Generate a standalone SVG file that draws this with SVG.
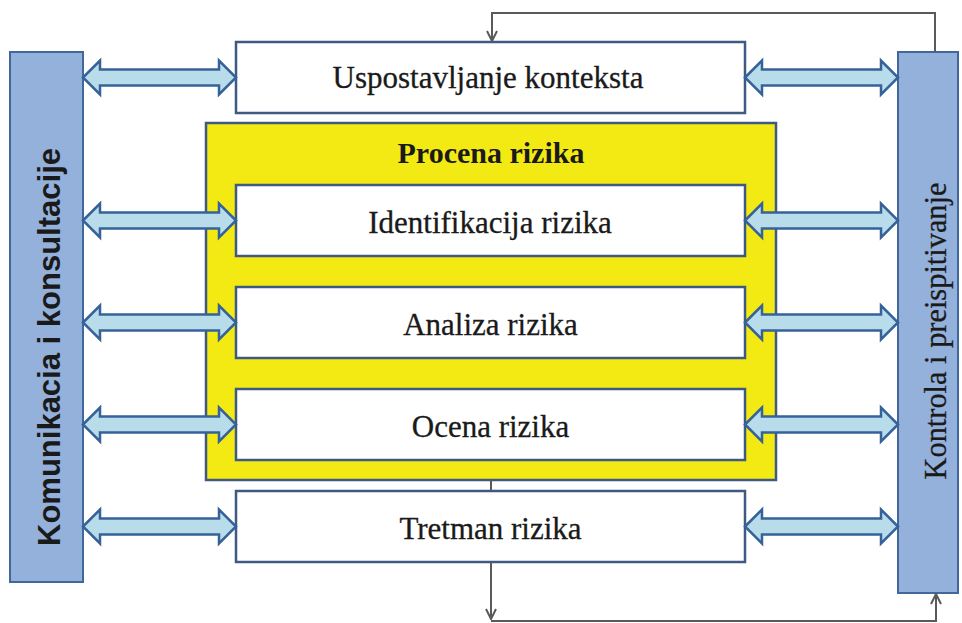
<svg xmlns="http://www.w3.org/2000/svg" width="962" height="623" viewBox="0 0 962 623">
<style>
.bar{fill:#93B1DA;stroke:#41689A;stroke-width:2}
.box{fill:#FFFFFF;stroke:#3C5A82;stroke-width:2.5}
.yel{fill:#F3EA14;stroke:#3C5A82;stroke-width:2.5}
.t{font-family:"Liberation Serif","Times New Roman",serif;font-size:31px;fill:#1A1A1A;text-anchor:middle;stroke:#1A1A1A;stroke-width:0.3}
.tb{font-family:"Liberation Serif","Times New Roman",serif;font-size:30px;font-weight:bold;fill:#1A1A1A;text-anchor:middle}
.ts{font-family:"Liberation Sans",Arial,sans-serif;font-size:32px;font-weight:bold;fill:#1A1A1A;text-anchor:middle}
.dar{fill:#B8DCE9;stroke:#36629A;stroke-width:2.5;stroke-linejoin:miter}
.ln{fill:none;stroke:#5A5A5A;stroke-width:2}
</style>
<defs>
<path id="da" d="M0,0 L17,-17 L17,-8 L136,-8 L136,-17 L153,0 L136,17 L136,8 L17,8 L17,17 Z"/>
<marker id="ah" viewBox="0 0 12 12" refX="11" refY="6" markerWidth="12" markerHeight="12" markerUnits="userSpaceOnUse" orient="auto">
<path d="M1,1 L11,6 L1,11" fill="none" stroke="#5A5A5A" stroke-width="2"/>
</marker>
</defs>
<rect width="962" height="623" fill="#FFFFFF"/>
<g id="komunikacija">
<rect class="bar" x="10" y="52" width="73" height="530"/>
<text class="ts" transform="translate(60,347) rotate(-90)" textLength="398" lengthAdjust="spacingAndGlyphs">Komunikacia i konsultacije</text>
</g>
<g id="kontrola">
<rect class="bar" x="898" y="52" width="60" height="541"/>
<text class="t" transform="translate(946,331) rotate(-90)" textLength="297" lengthAdjust="spacingAndGlyphs">Kontrola i preispitivanje</text>
</g>
<g id="procena">
<rect class="yel" x="206" y="123" width="570" height="357"/>
<text class="tb" x="491" y="163">Procena rizika</text>
</g>
<g id="uspostavljanje">
<rect class="box" x="236" y="42" width="509" height="71"/>
<text class="t" x="488" y="88">Uspostavljanje konteksta</text>
</g>
<g id="identifikacija">
<rect class="box" x="236" y="185" width="509" height="71"/>
<text class="t" x="490" y="233">Identifikacija rizika</text>
</g>
<g id="analiza">
<rect class="box" x="236" y="287" width="509" height="71"/>
<text class="t" x="490.5" y="335">Analiza rizika</text>
</g>
<g id="ocena">
<rect class="box" x="236" y="389" width="509" height="71"/>
<text class="t" x="490.5" y="437">Ocena rizika</text>
</g>
<g id="tretman">
<rect class="box" x="236" y="491" width="509" height="71"/>
<text class="t" x="490.5" y="539">Tretman rizika</text>
</g>
<g id="connectors">
<use href="#da" class="dar" transform="translate(83,77.5)"/>
<use href="#da" class="dar" transform="translate(83,220.5)"/>
<use href="#da" class="dar" transform="translate(83,322.5)"/>
<use href="#da" class="dar" transform="translate(83,424.5)"/>
<use href="#da" class="dar" transform="translate(83,526.5)"/>
<use href="#da" class="dar" transform="translate(745,77.5)"/>
<use href="#da" class="dar" transform="translate(745,220.5)"/>
<use href="#da" class="dar" transform="translate(745,322.5)"/>
<use href="#da" class="dar" transform="translate(745,424.5)"/>
<use href="#da" class="dar" transform="translate(745,526.5)"/>
<path class="ln" d="M935,52 V13 H492 V41" marker-end="url(#ah)"/>
<path class="ln" d="M491,480 V491"/>
<path class="ln" d="M491,562 V619" marker-end="url(#ah)"/>
<path class="ln" d="M491,621 H936 V594" marker-end="url(#ah)"/>
</g>
</svg>
